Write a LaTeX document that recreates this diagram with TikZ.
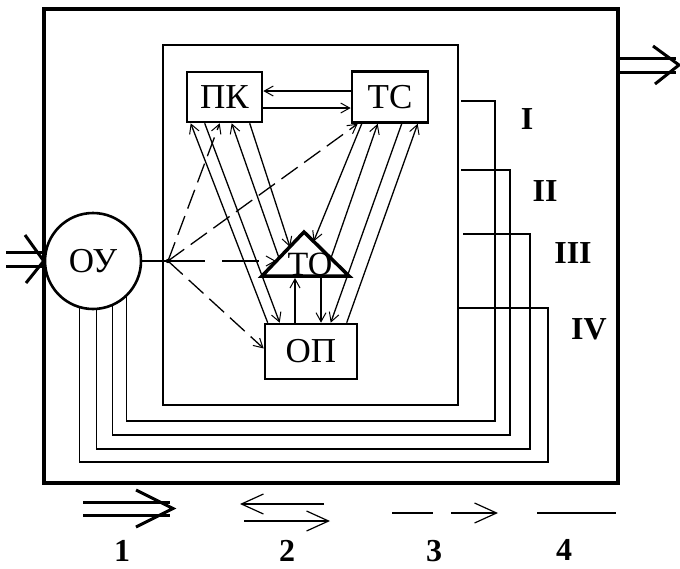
\documentclass[tikz,border=0pt]{standalone}
\usepackage{fontspec}
\setmainfont{Liberation Serif}
\usetikzlibrary{arrows.meta}
\begin{document}
\begin{tikzpicture}[x=1pt,y=-1pt,
 blk/.style={draw,line width=2.6pt,inner sep=0pt,font=\fontsize{35}{38}\selectfont},
 ln/.style={line width=1.3pt},
 tipa/.style={-{Straight Barb[length=9pt,width=10pt,line width=1pt]}},
 arr/.style={ln,tipa},
 darr/.style={ln,tipa,dash pattern=on 20pt off 8pt},
 big/.style={line width=3pt},
 bigtip/.style={-{Straight Barb[length=22pt,width=20pt,line width=1.2pt]}},
 num/.style={font=\fontsize{32}{34}\selectfont\bfseries,inner sep=0pt},
]
\fill[white] (0,0) rectangle (680,568);
\useasboundingbox (0,0) rectangle (680,568);

% frames
\node[draw,line width=3.5pt,minimum width=574pt,minimum height=474pt,inner sep=0pt] (outer) at (331,246) {};
\node[draw,line width=1.5pt,minimum width=295pt,minimum height=360pt,inner sep=0pt] (inner) at (310.5,225) {};

% blocks
\node[blk,minimum width=75pt,minimum height=50pt] (PK) at (224.5,97) {ПК};
\node[blk,minimum width=76pt,minimum height=51pt] (TS) at (390,97) {ТС};
\node[blk,minimum width=92pt,minimum height=55pt] (OP) at (311,351.5) {ОП};
\node[blk,circle,minimum size=96pt] (OU) at (93,261) {\raisebox{-4pt}{ОУ}};

% triangle TO
\coordinate (TOa) at (304,232);
\coordinate (TOl) at (262,276);
\coordinate (TOr) at (349,276);
\draw[line width=3.5pt,line join=miter] (TOl) -- (TOa) -- (TOr) -- cycle;
\node[font=\fontsize{34}{36}\selectfont,inner sep=0pt] (TO) at (310,264) {ТО};
\coordinate (TOw) at (276,261);
\coordinate (TOl1) at (290,247);
\coordinate (TOl2) at (279,258);
\coordinate (TOr1) at (313.6,241.4);
\coordinate (TOr2) at (331,258);
\coordinate (TOb1) at (295,278);
\coordinate (TOb2) at (321,278);

% junction
\coordinate (J) at (168,261);
\draw[ln] (OU.east) -- (J);
\fill (J) circle (2.2pt);
\draw[ln,tipa,dash pattern=on 37pt off 17pt] (J) -- (TOw);
\draw[darr] (J) -- ([yshift=3pt]OP.west);
\draw[darr] (J) -- ([xshift=34pt]PK.south west);
\draw[darr] (J) -- ([xshift=7pt]TS.south west);

% PK - TS
\draw[arr] ([yshift=6pt]TS.west) -- ([yshift=6pt]PK.east);
\draw[arr] ([yshift=-11pt]PK.east) -- ([yshift=-11pt]TS.west);

% PK - OP, PK - TO
\draw[arr] ([xshift=4pt]OP.north west) -- ([xshift=5pt]PK.south west);
\draw[arr] ([xshift=19pt]PK.south west) -- ([xshift=16pt]OP.north west);
\draw[arr] (TOl2) -- ([xshift=46pt]PK.south west);
\draw[arr] ([xshift=64pt]PK.south west) -- (TOl1);

% TS - TO, TS - OP
\draw[arr] ([xshift=11pt]TS.south west) -- (TOr1);
\draw[arr] (TOr2) -- ([xshift=27pt]TS.south west);
\draw[arr] ([xshift=51pt]TS.south west) -- ([xshift=67pt]OP.north west);
\draw[arr] ([xshift=83pt]OP.north west) -- ([xshift=67pt]TS.south west);

% TO - OP
\draw[arr] (TOb1 |- OP.north) -- (TOb1);
\draw[arr] (TOb2) -- (TOb2 |- OP.north);

% feedback loops
\coordinate (fI) at (495,421);   \coordinate (eI) at (461,101);
\coordinate (fII) at (510,435);  \coordinate (eII) at (461,170);
\coordinate (fIII) at (530,449); \coordinate (eIII) at (463,234);
\coordinate (fIV) at (548,462);  \coordinate (eIV) at (inner.east |- 0,308);
\draw[ln] (OU.-47.9) |- (fI) |- (eI);
\draw[ln] (OU.-67.3) |- (fII) |- (eII);
\draw[ln] (OU.-86.5) |- (fIII) |- (eIII);
\draw[ln] (OU.-106.5) |- (fIV) |- (eIV);
\node[num] (rI) at (527,119.5) {I};
\node[num] (rII) at (545,191) {II};
\node[num] (rIII) at (573,253) {III};
\node[num] (rIV) at (589,329) {IV};

% input arrow
\coordinate (in1) at (6,252);
\coordinate (in2) at (6,266);
\draw[big] (in1) -- (in1 -| OU.west);
\draw[big] (in2) -- (in2 -| OU.west);
\draw[big] (25,235) -- (OU.west) -- (26,283);

% output arrow
\coordinate (out1) at (676,58);
\coordinate (out2) at (676,72);
\coordinate (outtip) at (679,65);
\draw[big] (out1 -| outer.east) -- (out1);
\draw[big] (out2 -| outer.east) -- (out2);
\draw[big] (653,46) -- (outtip) -- (655,84);

% legend
\draw[big] (83,502) -- (170,502);
\draw[big] (83,515) -- (170,515);
\draw[big] (136,490) -- (173,508.5) -- (136,527);
\draw[ln,bigtip] (324,504) -- (240,504);
\draw[ln,bigtip] (244,521) -- (330,521);
\draw[ln] (392,513) -- (433,513);
\draw[ln,bigtip] (451,513) -- (498,513);
\draw[ln] (537,513) -- (616,513);
\node[num] (n1) at (122,551) {1};
\node[num] (n2) at (287,551) {2};
\node[num] (n3) at (434,551) {3};
\node[num] (n4) at (564,550) {4};
\end{tikzpicture}
\end{document}
